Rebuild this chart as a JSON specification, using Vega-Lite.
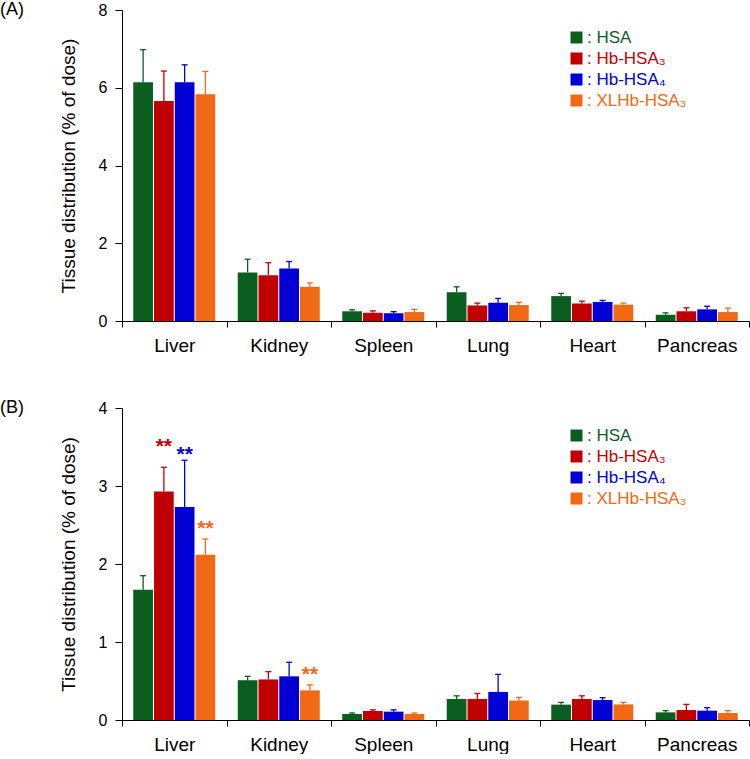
{
  "$schema": "https://vega.github.io/schema/vega-lite/v6.json",
  "padding": {"top": 1, "left": 0, "right": 0, "bottom": 0},
  "background": "white",
  "config": {
    "view": {"stroke": null},
    "font": "Liberation Sans",
    "axisY": {"domainColor": "black", "tickColor": "black", "labelColor": "black", "labelFontSize": 16, "tickSize": 7, "labelPadding": 8, "titleFontSize": 19, "titleFontWeight": "normal", "titleColor": "black", "titlePadding": 20, "grid": false, "format": "d"},
    "axisX": {"labelAngle": 0, "tickBand": "extent", "tickSize": 6, "labelFontSize": 19, "labelPadding": 9, "labelColor": "black", "domainColor": "black", "tickColor": "black", "grid": false},
    "legend": {"padding": 0}
  },
  "datasets": {
    "a": [
      {"organ": "Liver", "group": "HSA", "mean": 6.14, "upper": 6.98},
      {"organ": "Liver", "group": "Hb-HSA₃", "mean": 5.66, "upper": 6.43},
      {"organ": "Liver", "group": "Hb-HSA₄", "mean": 6.14, "upper": 6.59},
      {"organ": "Liver", "group": "XLHb-HSA₃", "mean": 5.83, "upper": 6.42},
      {"organ": "Kidney", "group": "HSA", "mean": 1.25, "upper": 1.59},
      {"organ": "Kidney", "group": "Hb-HSA₃", "mean": 1.18, "upper": 1.5},
      {"organ": "Kidney", "group": "Hb-HSA₄", "mean": 1.35, "upper": 1.53},
      {"organ": "Kidney", "group": "XLHb-HSA₃", "mean": 0.88, "upper": 0.98},
      {"organ": "Spleen", "group": "HSA", "mean": 0.25, "upper": 0.29},
      {"organ": "Spleen", "group": "Hb-HSA₃", "mean": 0.21, "upper": 0.26},
      {"organ": "Spleen", "group": "Hb-HSA₄", "mean": 0.2, "upper": 0.24},
      {"organ": "Spleen", "group": "XLHb-HSA₃", "mean": 0.23, "upper": 0.3},
      {"organ": "Lung", "group": "HSA", "mean": 0.74, "upper": 0.88},
      {"organ": "Lung", "group": "Hb-HSA₃", "mean": 0.4, "upper": 0.46},
      {"organ": "Lung", "group": "Hb-HSA₄", "mean": 0.47, "upper": 0.58},
      {"organ": "Lung", "group": "XLHb-HSA₃", "mean": 0.41, "upper": 0.48},
      {"organ": "Heart", "group": "HSA", "mean": 0.64, "upper": 0.71},
      {"organ": "Heart", "group": "Hb-HSA₃", "mean": 0.45, "upper": 0.51},
      {"organ": "Heart", "group": "Hb-HSA₄", "mean": 0.49, "upper": 0.53},
      {"organ": "Heart", "group": "XLHb-HSA₃", "mean": 0.42, "upper": 0.46},
      {"organ": "Pancreas", "group": "HSA", "mean": 0.16, "upper": 0.21},
      {"organ": "Pancreas", "group": "Hb-HSA₃", "mean": 0.25, "upper": 0.34},
      {"organ": "Pancreas", "group": "Hb-HSA₄", "mean": 0.3, "upper": 0.38},
      {"organ": "Pancreas", "group": "XLHb-HSA₃", "mean": 0.23, "upper": 0.33}
    ],
    "b": [
      {"organ": "Liver", "group": "HSA", "mean": 1.67, "upper": 1.85},
      {"organ": "Liver", "group": "Hb-HSA₃", "mean": 2.93, "upper": 3.24, "sig": "**", "sigY": 3.58},
      {"organ": "Liver", "group": "Hb-HSA₄", "mean": 2.73, "upper": 3.33, "sig": "**", "sigY": 3.48},
      {"organ": "Liver", "group": "XLHb-HSA₃", "mean": 2.12, "upper": 2.32, "sig": "**", "sigY": 2.53},
      {"organ": "Kidney", "group": "HSA", "mean": 0.51, "upper": 0.56},
      {"organ": "Kidney", "group": "Hb-HSA₃", "mean": 0.52, "upper": 0.62},
      {"organ": "Kidney", "group": "Hb-HSA₄", "mean": 0.56, "upper": 0.74},
      {"organ": "Kidney", "group": "XLHb-HSA₃", "mean": 0.38, "upper": 0.45, "sig": "**", "sigY": 0.65},
      {"organ": "Spleen", "group": "HSA", "mean": 0.077, "upper": 0.09},
      {"organ": "Spleen", "group": "Hb-HSA₃", "mean": 0.115, "upper": 0.13},
      {"organ": "Spleen", "group": "Hb-HSA₄", "mean": 0.107, "upper": 0.13},
      {"organ": "Spleen", "group": "XLHb-HSA₃", "mean": 0.077, "upper": 0.09},
      {"organ": "Lung", "group": "HSA", "mean": 0.27, "upper": 0.31},
      {"organ": "Lung", "group": "Hb-HSA₃", "mean": 0.27, "upper": 0.34},
      {"organ": "Lung", "group": "Hb-HSA₄", "mean": 0.36, "upper": 0.585},
      {"organ": "Lung", "group": "XLHb-HSA₃", "mean": 0.25, "upper": 0.29},
      {"organ": "Heart", "group": "HSA", "mean": 0.197, "upper": 0.226},
      {"organ": "Heart", "group": "Hb-HSA₃", "mean": 0.27, "upper": 0.31},
      {"organ": "Heart", "group": "Hb-HSA₄", "mean": 0.256, "upper": 0.286},
      {"organ": "Heart", "group": "XLHb-HSA₃", "mean": 0.2, "upper": 0.226},
      {"organ": "Pancreas", "group": "HSA", "mean": 0.098, "upper": 0.12},
      {"organ": "Pancreas", "group": "Hb-HSA₃", "mean": 0.128, "upper": 0.2},
      {"organ": "Pancreas", "group": "Hb-HSA₄", "mean": 0.12, "upper": 0.158},
      {"organ": "Pancreas", "group": "XLHb-HSA₃", "mean": 0.09, "upper": 0.12}
    ]
  },
  "resolve": {"legend": {"color": "independent"}},
  "spacing": 44,
  "vconcat": [
    {
      "data": {"name": "a"},
      "width": 627,
      "height": 311,
      "title": {"text": "(A)", "anchor": "start", "frame": "group", "dx": -122, "offset": -17, "fontSize": 18, "fontWeight": "normal", "color": "black", "baseline": "top"},
      "encoding": {
        "x": {"field": "organ", "type": "nominal", "sort": ["Liver", "Kidney", "Spleen", "Lung", "Heart", "Pancreas"], "scale": {"paddingInner": 0, "paddingOuter": 0}, "axis": {"title": null}},
        "xOffset": {"field": "group", "type": "nominal", "sort": ["HSA", "Hb-HSA₃", "Hb-HSA₄", "XLHb-HSA₃"], "scale": {"paddingInner": 0.05, "paddingOuter": 0.542}},
        "color": {"field": "group", "type": "nominal", "scale": {"domain": ["HSA", "Hb-HSA₃", "Hb-HSA₄", "XLHb-HSA₃"], "range": ["#0b5e1f", "#c00000", "#0000d4", "#f06914"]}, "legend": null}
      },
      "layer": [
        {
          "mark": {"type": "bar"},
          "encoding": {
            "y": {"field": "mean", "type": "quantitative", "scale": {"domain": [0, 8], "nice": false}, "axis": {"values": [0, 2, 4, 6, 8], "title": "Tissue distribution (% of dose)"}},
            "color": {"field": "group", "type": "nominal", "legend": {"title": null, "orient": "none", "legendX": 446, "legendY": 19, "symbolType": "square", "symbolSize": 144, "symbolStrokeWidth": 0, "symbolOpacity": 1, "labelFontSize": 17, "labelOffset": 2, "rowPadding": 3, "labelExpr": "': ' + datum.label", "encode": {"labels": {"update": {"fill": {"scale": "color", "field": "value"}}}}}}
          }
        },
        {
          "mark": {"type": "rule", "strokeWidth": 1.3},
          "encoding": {"y": {"field": "mean", "type": "quantitative"}, "y2": {"field": "upper"}}
        },
        {
          "mark": {"type": "tick", "size": 6, "thickness": 1.3, "opacity": 1},
          "encoding": {"y": {"field": "upper", "type": "quantitative"}}
        }
      ]
    },
    {
      "data": {"name": "b"},
      "width": 627,
      "height": 312,
      "title": {"text": "(B)", "anchor": "start", "frame": "group", "dx": -122, "offset": -17, "fontSize": 18, "fontWeight": "normal", "color": "black", "baseline": "top"},
      "encoding": {
        "x": {"field": "organ", "type": "nominal", "sort": ["Liver", "Kidney", "Spleen", "Lung", "Heart", "Pancreas"], "scale": {"paddingInner": 0, "paddingOuter": 0}, "axis": {"title": null}},
        "xOffset": {"field": "group", "type": "nominal", "sort": ["HSA", "Hb-HSA₃", "Hb-HSA₄", "XLHb-HSA₃"], "scale": {"paddingInner": 0.05, "paddingOuter": 0.542}},
        "color": {"field": "group", "type": "nominal", "scale": {"domain": ["HSA", "Hb-HSA₃", "Hb-HSA₄", "XLHb-HSA₃"], "range": ["#0b5e1f", "#c00000", "#0000d4", "#f06914"]}, "legend": null}
      },
      "layer": [
        {
          "mark": {"type": "bar"},
          "encoding": {
            "y": {"field": "mean", "type": "quantitative", "scale": {"domain": [0, 4], "nice": false}, "axis": {"values": [0, 1, 2, 3, 4], "title": "Tissue distribution (% of dose)"}},
            "color": {"field": "group", "type": "nominal", "legend": {"title": null, "orient": "none", "legendX": 446, "legendY": 19, "symbolType": "square", "symbolSize": 144, "symbolStrokeWidth": 0, "symbolOpacity": 1, "labelFontSize": 17, "labelOffset": 2, "rowPadding": 3, "labelExpr": "': ' + datum.label", "encode": {"labels": {"update": {"fill": {"scale": "color", "field": "value"}}}}}}
          }
        },
        {
          "mark": {"type": "rule", "strokeWidth": 1.3},
          "encoding": {"y": {"field": "mean", "type": "quantitative"}, "y2": {"field": "upper"}}
        },
        {
          "mark": {"type": "tick", "size": 6, "thickness": 1.3, "opacity": 1},
          "encoding": {"y": {"field": "upper", "type": "quantitative"}}
        },
        {
          "transform": [{"filter": "datum.sig"}],
          "mark": {"type": "text", "fontSize": 21, "fontWeight": "bold", "baseline": "middle", "dy": 6},
          "encoding": {"y": {"field": "sigY", "type": "quantitative"}, "text": {"field": "sig"}}
        }
      ]
    }
  ]
}
